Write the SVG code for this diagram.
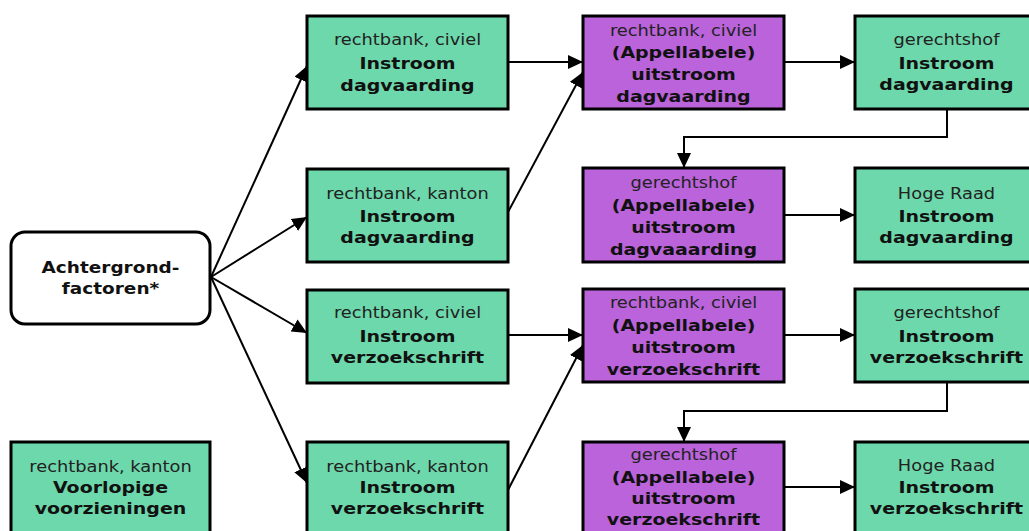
<svg xmlns="http://www.w3.org/2000/svg" width="1029" height="531" viewBox="0 0 1029 531">
<defs>
<style>
.g{fill:#6dd8ab;stroke:#000;stroke-width:3}
.p{fill:#bb63db;stroke:#000;stroke-width:3}
.w{fill:#fff;stroke:#000;stroke-width:3}
text{font-family:"DejaVu Sans",Verdana,sans-serif;text-anchor:middle}
.r{font-size:15.5px;fill:#222}
.b{font-size:16.5px;font-weight:bold;fill:#111}
.c{fill:none;stroke:#000;stroke-width:2}
</style>
<marker id="ah" markerUnits="userSpaceOnUse" markerWidth="16" markerHeight="14" refX="15" refY="7" orient="auto">
<path d="M0,0 L15,7 L0,14 Z" fill="#000"/>
</marker>
<clipPath id="k1"><rect x="584.5" y="17.5" width="198" height="90"/></clipPath>
<clipPath id="k2"><rect x="584.5" y="169.5" width="198" height="91"/></clipPath>
<clipPath id="k3"><rect x="584.5" y="290.5" width="198" height="90"/></clipPath>
<clipPath id="k4"><rect x="584.5" y="443.5" width="198" height="90"/></clipPath>
</defs>
<rect width="1029" height="531" fill="#fff"/>

<g id="connectors">
<path class="c" marker-end="url(#ah)" d="M211,277 L307,66"/>
<path class="c" marker-end="url(#ah)" d="M211,277 L307,217"/>
<path class="c" marker-end="url(#ah)" d="M211,277 L307,333"/>
<path class="c" marker-end="url(#ah)" d="M211,277 L307,483"/>
<path class="c" marker-end="url(#ah)" d="M508,62 L583,62"/>
<path class="c" marker-end="url(#ah)" d="M508,212 L583,72"/>
<path class="c" marker-end="url(#ah)" d="M784,62 L855,62"/>
<path class="c" marker-end="url(#ah)" d="M947,109 L947,137 L684,137 L684,168"/>
<path class="c" marker-end="url(#ah)" d="M784,215 L855,215"/>
<path class="c" marker-end="url(#ah)" d="M508,335 L583,335"/>
<path class="c" marker-end="url(#ah)" d="M508,490 L583,345"/>
<path class="c" marker-end="url(#ah)" d="M784,335 L855,335"/>
<path class="c" marker-end="url(#ah)" d="M947,382 L947,411 L684,411 L684,442"/>
<path class="c" marker-end="url(#ah)" d="M784,487 L855,487"/>
</g>

<g id="achtergrond">
<rect class="w" x="11" y="232" width="199" height="92" rx="14"/>
<g transform="translate(110.5 0) scale(1.12 1)">
<text class="b" x="0" y="273">Achtergrond-</text>
<text class="b" x="0" y="294">factoren*</text>
</g>
</g>

<g id="voorlopige">
<rect class="g" x="11" y="442" width="199" height="93"/>
<g transform="translate(110.5 0) scale(1.15 1)">
<text class="r" x="0" y="472">rechtbank, kanton</text>
<text class="b" x="0" y="493">Voorlopige</text>
<text class="b" x="0" y="514">voorzieningen</text>
</g>
</g>

<g id="rb-civiel-dag">
<rect class="g" x="307" y="16" width="201" height="93"/>
<g transform="translate(407.5 0) scale(1.15 1)">
<text class="r" x="0" y="45">rechtbank, civiel</text>
<text class="b" x="0" y="69">Instroom</text>
<text class="b" x="0" y="91">dagvaarding</text>
</g>
</g>

<g id="rb-kanton-dag">
<rect class="g" x="307" y="169" width="201" height="93"/>
<g transform="translate(407.5 0) scale(1.15 1)">
<text class="r" x="0" y="199">rechtbank, kanton</text>
<text class="b" x="0" y="222">Instroom</text>
<text class="b" x="0" y="243">dagvaarding</text>
</g>
</g>

<g id="rb-civiel-vz">
<rect class="g" x="307" y="290" width="201" height="93"/>
<g transform="translate(407.5 0) scale(1.15 1)">
<text class="r" x="0" y="318">rechtbank, civiel</text>
<text class="b" x="0" y="342">Instroom</text>
<text class="b" x="0" y="363">verzoekschrift</text>
</g>
</g>

<g id="rb-kanton-vz">
<rect class="g" x="307" y="442" width="201" height="93"/>
<g transform="translate(407.5 0) scale(1.15 1)">
<text class="r" x="0" y="472">rechtbank, kanton</text>
<text class="b" x="0" y="493">Instroom</text>
<text class="b" x="0" y="514">verzoekschrift</text>
</g>
</g>

<g id="uit-rb-dag">
<rect class="p" x="583" y="16" width="201" height="93"/>
<g clip-path="url(#k1)"><g transform="translate(683.5 0) scale(1.15 1)">
<text class="r" x="0" y="36">rechtbank, civiel</text>
<text class="b" x="0" y="58">(Appellabele)</text>
<text class="b" x="0" y="80">uitstroom</text>
<text class="b" x="0" y="102">dagvaarding</text>
</g></g>
</g>

<g id="uit-hof-dag">
<rect class="p" x="583" y="168" width="201" height="94"/>
<g clip-path="url(#k2)"><g transform="translate(683.5 0) scale(1.15 1)">
<text class="r" x="0" y="188">gerechtshof</text>
<text class="b" x="0" y="211">(Appellabele)</text>
<text class="b" x="0" y="233">uitstroom</text>
<text class="b" x="0" y="255">dagvaaarding</text>
</g></g>
</g>

<g id="uit-rb-vz">
<rect class="p" x="583" y="289" width="201" height="93"/>
<g clip-path="url(#k3)"><g transform="translate(683.5 0) scale(1.15 1)">
<text class="r" x="0" y="308">rechtbank, civiel</text>
<text class="b" x="0" y="331">(Appellabele)</text>
<text class="b" x="0" y="353">uitstroom</text>
<text class="b" x="0" y="375">verzoekschrift</text>
</g></g>
</g>

<g id="uit-hof-vz">
<rect class="p" x="583" y="442" width="201" height="93"/>
<g clip-path="url(#k4)"><g transform="translate(683.5 0) scale(1.15 1)">
<text class="r" x="0" y="460">gerechtshof</text>
<text class="b" x="0" y="483">(Appellabele)</text>
<text class="b" x="0" y="504">uitstroom</text>
<text class="b" x="0" y="525">verzoekschrift</text>
</g></g>
</g>

<g id="hof-dag">
<rect class="g" x="855" y="16" width="183" height="93"/>
<g transform="translate(946.5 0) scale(1.15 1)">
<text class="r" x="0" y="45">gerechtshof</text>
<text class="b" x="0" y="69">Instroom</text>
<text class="b" x="0" y="90">dagvaarding</text>
</g>
</g>

<g id="hr-dag">
<rect class="g" x="855" y="168" width="183" height="94"/>
<g transform="translate(946.5 0) scale(1.15 1)">
<text class="r" x="0" y="199">Hoge Raad</text>
<text class="b" x="0" y="222">Instroom</text>
<text class="b" x="0" y="243">dagvaarding</text>
</g>
</g>

<g id="hof-vz">
<rect class="g" x="855" y="289" width="183" height="93"/>
<g transform="translate(946.5 0) scale(1.15 1)">
<text class="r" x="0" y="318">gerechtshof</text>
<text class="b" x="0" y="342">Instroom</text>
<text class="b" x="0" y="363">verzoekschrift</text>
</g>
</g>

<g id="hr-vz">
<rect class="g" x="855" y="442" width="183" height="93"/>
<g transform="translate(946.5 0) scale(1.15 1)">
<text class="r" x="0" y="471">Hoge Raad</text>
<text class="b" x="0" y="493">Instroom</text>
<text class="b" x="0" y="514">verzoekschrift</text>
</g>
</g>
</svg>
